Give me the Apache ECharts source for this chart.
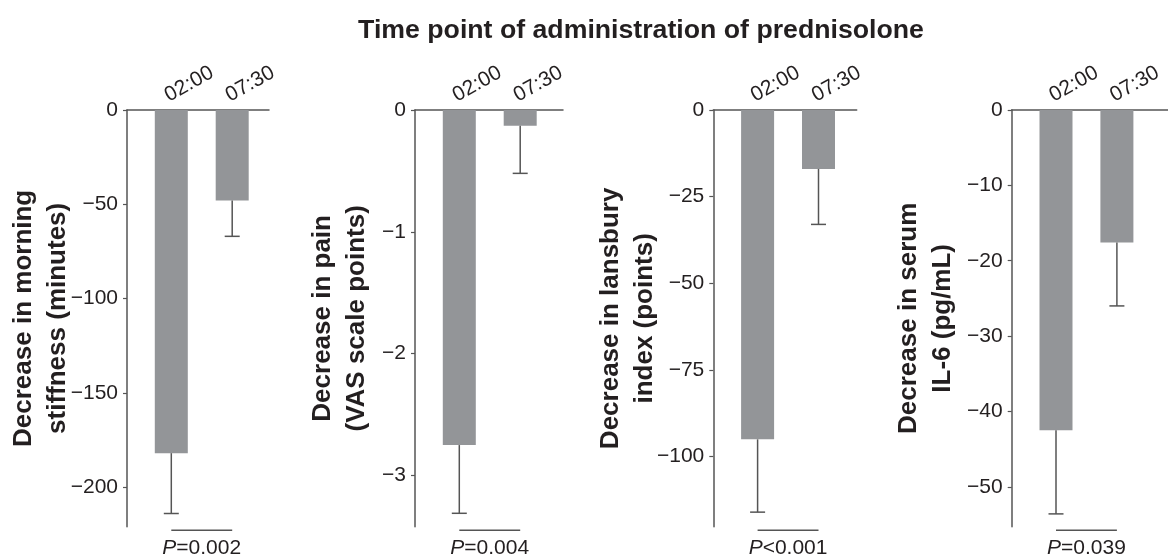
<!DOCTYPE html>
<html>
<head>
<meta charset="utf-8">
<script src="https://cdn.jsdelivr.net/npm/echarts@6/dist/echarts.min.js"></script>
<style>
html,body{margin:0;padding:0;background:#fff;}
#chart{width:1168px;height:556px;}
</style>
</head>
<body>
<div id="chart"></div>
<script>
// ---- data ----
const categories = ['02:00', '07:30'];
const titleText = 'Time point of administration of prednisolone';
const yTitles = [
  'Decrease in morning\nstiffness (minutes)',
  'Decrease in pain\n(VAS scale points)',
  'Decrease in lansbury\nindex (points)',
  'Decrease in serum\nIL-6 (pg/mL)'
];
const stiffnessMeans = [-182, -48];
const stiffnessErr = [-214, -67];
const painMeans = [-2.75, -0.13];
const painErr = [-3.31, -0.52];
const lansburyMeans = [-95, -17];
const lansburyErr = [-116, -33];
const il6Means = [-42.5, -17.6];
const il6Err = [-53.6, -26];
const stiffnessTicks = [0, -50, -100, -150, -200];
const painTicks = [0, -1, -2, -3];
const lansburyTicks = [0, -25, -50, -75, -100];
const il6Ticks = [0, -10, -20, -30, -40, -50];
const yMins = [-221, -3.42, -120.2, -55.3];
const pTexts = ['=0.002', '=0.004', '<0.001', '=0.039'];

const meansList = [stiffnessMeans, painMeans, lansburyMeans, il6Means];
const errList = [stiffnessErr, painErr, lansburyErr, il6Err];
const ticksList = [stiffnessTicks, painTicks, lansburyTicks, il6Ticks];

// ---- layout ----
const axisXs = [127, 415, 713.3, 1011.7];
const rights = [269, 563, 856.7, 1168];
const nameGaps = [52, 41, 51, 52];
const gridTop = 110, gridHeight = 416.7;
const firstOffset = 44.3, spacing = 60.9;
const xMin = -firstOffset / spacing;

const FONT = 'Liberation Sans, Arial, Helvetica, sans-serif';
const TXT = '#231f20';
const AX = '#555555';
const BAR = '#939598';

const grids = [], xAxes = [], yAxes = [], series = [];
const minus = v => String(v).replace('-', '\u2212');

for (let i = 0; i < 4; i++) {
  const w = rights[i] - axisXs[i];
  grids.push({left: axisXs[i], top: gridTop, width: w, height: gridHeight, containLabel: false});
  xAxes.push({
    type: 'value', gridIndex: i, position: 'top',
    min: xMin, max: xMin + w / spacing,
    axisLine: {show: true, onZero: false, lineStyle: {color: AX, width: 1.5}},
    axisTick: {show: false},
    splitLine: {show: false},
    axisLabel: {
      show: true, customValues: [0, 1],
      formatter: v => categories[Math.round(v)],
      rotate: -29, margin: 4, align: 'left', verticalAlign: 'bottom',
      fontSize: 21, color: TXT, fontFamily: FONT
    }
  });
  yAxes.push({
    type: 'value', gridIndex: i, min: yMins[i], max: 0,
    axisLine: {show: true, onZero: false, lineStyle: {color: AX, width: 1.5}},
    axisTick: {show: true, customValues: ticksList[i], length: 4, lineStyle: {color: AX, width: 1.2}},
    splitLine: {show: false},
    axisLabel: {
      customValues: ticksList[i], formatter: v => minus(v),
      fontSize: 21, color: TXT, fontFamily: FONT, margin: 9
    },
    name: yTitles[i], nameLocation: 'middle', nameGap: nameGaps[i], nameMoveOverlap: false,
    nameTextStyle: {fontSize: 26, fontWeight: 'bold', color: TXT, fontFamily: FONT, lineHeight: 34}
  });
  const means = meansList[i], errs = errList[i];
  series.push({
    type: 'bar', xAxisIndex: i, yAxisIndex: i, barWidth: 33,
    itemStyle: {color: BAR},
    data: means.map((m, k) => [k, m]),
    silent: true
  });
  series.push({
    type: 'custom', xAxisIndex: i, yAxisIndex: i,
    data: means.map((m, k) => [k, m, errs[k]]),
    encode: {x: 0, y: 1},
    renderItem: (params, api) => {
      const x = api.value(0);
      const a = api.coord([x, api.value(1)]);
      const b = api.coord([x, api.value(2)]);
      const st = {stroke: '#555', lineWidth: 1.5};
      return {type: 'group', children: [
        {type: 'line', shape: {x1: a[0], y1: a[1], x2: b[0], y2: b[1]}, style: st},
        {type: 'line', shape: {x1: b[0] - 7.5, y1: b[1], x2: b[0] + 7.5, y2: b[1]}, style: st}
      ]};
    },
    z: 3, silent: true
  });
  const ymin = yMins[i], ptxt = pTexts[i];
  series.push({
    type: 'custom', xAxisIndex: i, yAxisIndex: i,
    data: [[0, ymin]],
    encode: {x: 0, y: 1},
    renderItem: (params, api) => {
      const a = api.coord([0, ymin]);
      const b = api.coord([1, ymin]);
      const y = a[1] + 3.5;
      return {type: 'group', children: [
        {type: 'line', shape: {x1: a[0], y1: y, x2: b[0], y2: y}, style: {stroke: '#555', lineWidth: 1.5}},
        {type: 'text', x: (a[0] + b[0]) / 2, y: y + 18, style: {
          text: '{i|P}' + ptxt, align: 'center', verticalAlign: 'middle',
          fontSize: 21, fontFamily: FONT, fill: TXT,
          rich: {i: {fontStyle: 'italic', fontSize: 21, fontFamily: FONT, fill: TXT}}
        }}
      ]};
    },
    clip: false, silent: true
  });
}

const chart = echarts.init(document.getElementById('chart'));
chart.setOption({
  animation: false,
  backgroundColor: '#fff',
  textStyle: {fontFamily: FONT},
  title: {
    text: titleText, left: 636, top: 12, textAlign: 'center',
    textStyle: {fontSize: 26.7, fontWeight: 'bold', color: TXT, fontFamily: FONT}
  },
  grid: grids, xAxis: xAxes, yAxis: yAxes, series: series
});
</script>
</body>
</html>
